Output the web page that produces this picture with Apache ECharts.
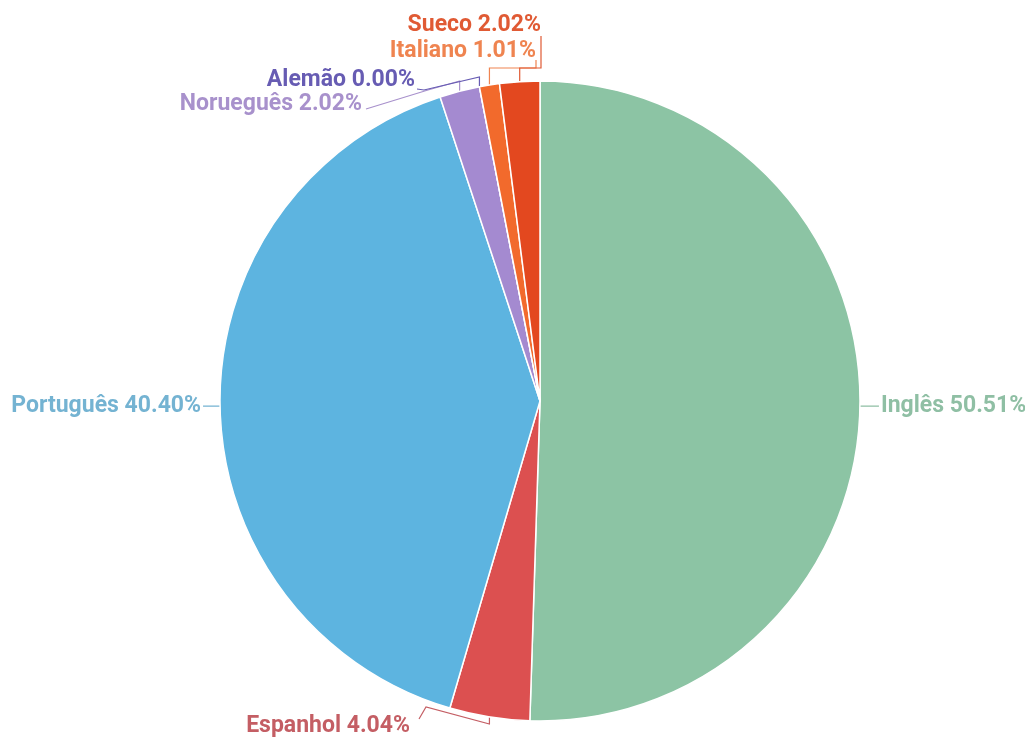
<!DOCTYPE html>
<html>
<head>
<meta charset="utf-8">
<script src="https://cdn.jsdelivr.net/npm/echarts@6/dist/echarts.min.js"></script>
<style>
  html, body { margin: 0; padding: 0; background: #ffffff; }
  #chart { width: 1025px; height: 738px; }
</style>
</head>
<body>
<div id="chart"></div>
<script>
// Languages, in clockwise order starting at 12 o'clock
const languages = ['Inglês', 'Espanhol', 'Português', 'Norueguês', 'Alemão', 'Italiano', 'Sueco'];
const counts = [50, 4, 40, 2, 0, 1, 2];
const sliceColors = ['#8cc4a4', '#dc5050', '#5db4e0', '#a48ad0', '#6a5fb5', '#f26a2c', '#e3481f'];
const labelColors = ['#8fbfa4', '#c45e64', '#74b3d2', '#a891cc', '#675cb3', '#ef8450', '#e05a34'];

const chart = echarts.init(document.getElementById('chart'));

const total = counts.reduce((a, b) => a + b, 0);

// Hand-placed labels for the crowded small slices; the connector
// starts at the slice's own edge point computed by the pie layout.
const labelPlacement = {
  'Sueco':     { x: 541, y: 25,  line: e => [e, [e[0], 68], [541, 68], [541, 36]] },
  'Italiano':  { x: 536, y: 51,  line: e => [e, [e[0], 68], [536, 68], [536, 60]] },
  'Alemão':    { x: 415, y: 80,  line: e => [e, [e[0], 77], [424, 90], [417, 89]] },
  'Norueguês': { x: 362, y: 104, line: e => [e, [e[0], 81], [428, 90], [366, 109]] },
  'Espanhol':  { x: 410, y: 726, line: e => [e, [e[0], 724], [426, 707], [419, 719]] }
};

chart.setOption({
  animation: false,
  backgroundColor: '#ffffff',
  series: [{
    type: 'pie',
    center: [540, 401],
    radius: [0, 320],
    startAngle: 90,
    clockwise: true,
    avoidLabelOverlap: true,
    itemStyle: { borderColor: '#ffffff', borderWidth: 1.5 },
    label: {
      show: true,
      overflow: 'none',
      fontFamily: 'Roboto',
      fontSize: 23,
      fontWeight: 'bold',
      distanceToLabelLine: 2,
      formatter: p => p.name + ' ' + (p.value / total * 100).toFixed(2) + '%'
    },
    labelLine: { show: true, length: 5, length2: 14, smooth: false, lineStyle: { width: 1.2 } },
    labelLayout: function (p) {
      const place = labelPlacement[languages[p.dataIndex]];
      if (!place || !p.labelLinePoints) return {};
      const edge = p.labelLinePoints[0];
      return {
        x: place.x,
        y: place.y,
        align: 'right',
        verticalAlign: 'middle',
        labelLinePoints: place.line(edge)
      };
    },
    data: languages.map((name, i) => ({
      name: name,
      value: counts[i],
      itemStyle: { color: sliceColors[i] },
      label: { color: labelColors[i] },
      labelLine: { lineStyle: { color: labelColors[i] } }
    }))
  }]
});
</script>
</body>
</html>
